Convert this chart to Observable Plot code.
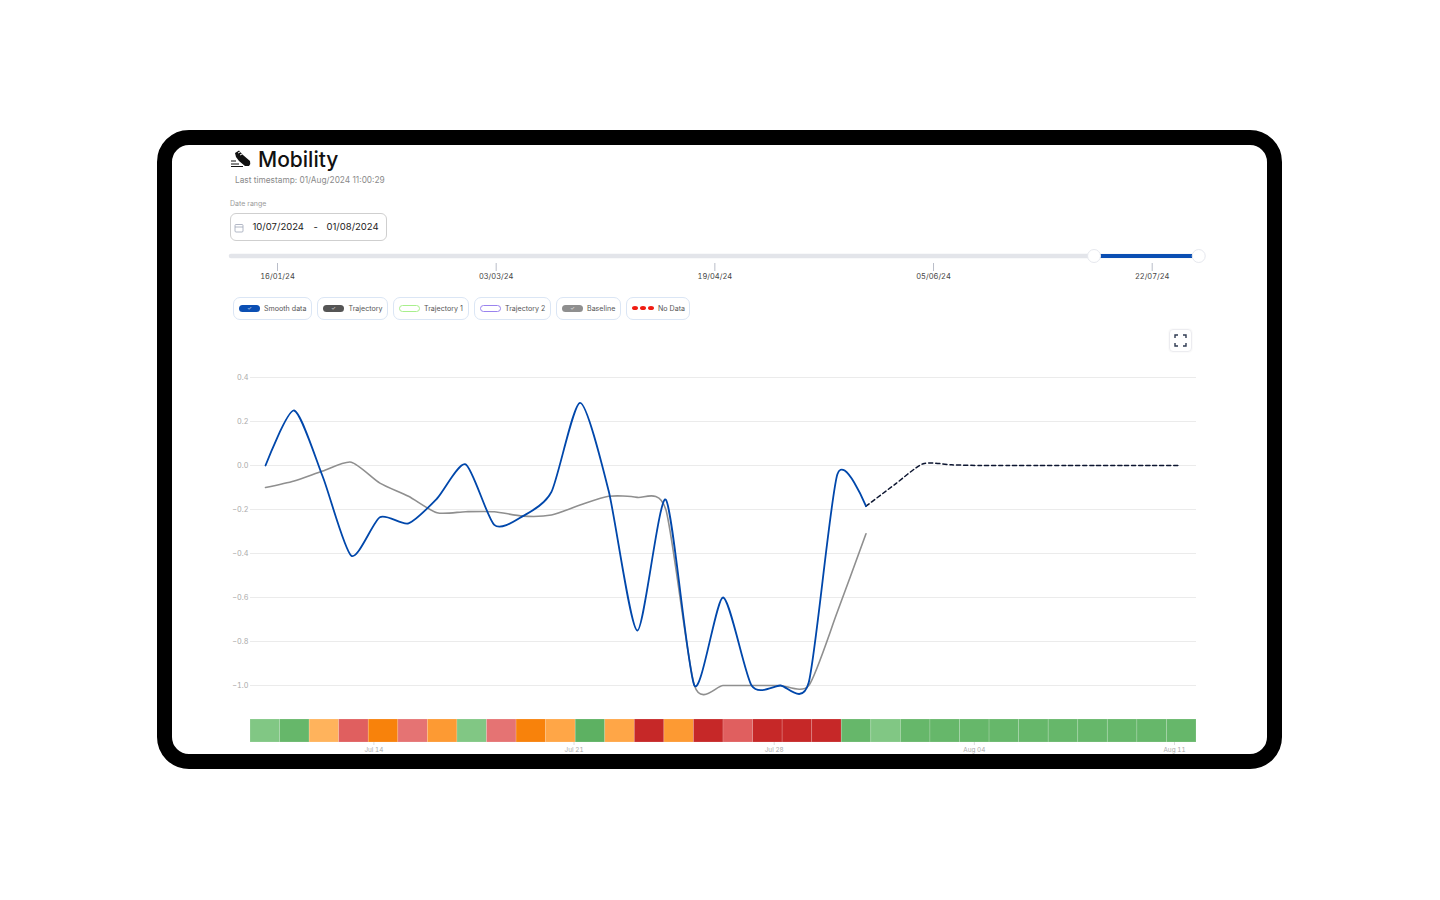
<!DOCTYPE html>
<html><head><meta charset="utf-8">
<script src="https://cdn.jsdelivr.net/npm/d3@7"></script>
<script src="https://cdn.jsdelivr.net/npm/@observablehq/plot@0.6"></script>
<style>
html,body{margin:0;padding:0;background:#fff;font-family:Inter,sans-serif}
#page{position:relative;width:1440px;height:900px;overflow:hidden;background:#fff}
#frame{position:absolute;left:157px;top:130px;width:1125px;height:639px;box-sizing:border-box;border:15px solid #000;border-radius:32px;z-index:5;pointer-events:none}
.abs{position:absolute;white-space:nowrap}
.plot{position:absolute;left:172px}
.pill{position:absolute;top:297px;height:23px;box-sizing:border-box;border:1px solid #dbe6f5;border-radius:7px;background:#fff;font-size:7.1px;color:#555;line-height:21px}
.pill .sw{position:absolute;left:5px;top:7px;width:21px;height:7px;border-radius:4px;box-sizing:border-box;color:#fff;font-size:5px;line-height:7px;text-align:center}
.pill .tx{position:absolute;top:0}
.dot{position:absolute;top:8px;width:6px;height:4px;border-radius:50%;background:#f01c12}
</style></head><body>
<div id="page">
  <div id="frame"></div>
  <svg class="abs" style="left:231px;top:150px" width="20" height="18" viewBox="0 0 20 18">
    <path d="M4 3 L8 0.5 L12 5 L19 11 Q20 14 18 16 L14 16 L8 11 L5 7 Z" fill="#111"/>
    <path d="M7 3 L10 1.5 M9 5 L12 3.5" stroke="#fff" stroke-width="1"/>
    <path d="M0 11 H5 M0 14 H8 M0 16.5 H12" stroke="#111" stroke-width="1.1"/>
  </svg>
  <div class="abs" style="left:258px;top:146px;font-size:21px;font-weight:500;color:#111;line-height:27px">Mobility</div>
  <div class="abs" style="left:235px;top:175px;font-size:8.3px;color:#8a8a8a;line-height:11px">Last timestamp: 01/Aug/2024 11:00:29</div>
  <div class="abs" style="left:230px;top:199px;font-size:7px;color:#9a9a9a;line-height:10px">Date range</div>
  <div class="abs" style="left:230px;top:213px;width:157px;height:28px;box-sizing:border-box;border:1.5px solid #cfcfcf;border-radius:6px"></div>
  <svg class="abs" style="left:234px;top:223px" width="10" height="10" viewBox="0 0 10 10"><rect x="1" y="1.5" width="8" height="7.5" rx="1" fill="none" stroke="#9fa6b8" stroke-width=".8"/><path d="M1 4H9" stroke="#9fa6b8" stroke-width=".8"/></svg>
  <div class="abs" style="left:252.5px;top:221px;font-size:9.5px;color:#222;line-height:12px">10/07/2024</div>
  <div class="abs" style="left:313.5px;top:221px;font-size:9.5px;color:#222;line-height:12px">-</div>
  <div class="abs" style="left:326.5px;top:221px;font-size:9.5px;color:#222;line-height:12px">01/08/2024</div>

  <div class="pill" style="left:233px;width:79px"><span class="sw" style="background:#0b4fb3">✓</span><span class="tx" style="left:30px">Smooth data</span></div>
  <div class="pill" style="left:317px;width:71px"><span class="sw" style="background:#555">✓</span><span class="tx" style="left:30.5px">Trajectory</span></div>
  <div class="pill" style="left:393px;width:76px"><span class="sw" style="border:1.3px solid #a8ef8c"></span><span class="tx" style="left:30px">Trajectory 1</span></div>
  <div class="pill" style="left:474px;width:77px"><span class="sw" style="border:1.3px solid #9a83ee"></span><span class="tx" style="left:30px">Trajectory 2</span></div>
  <div class="pill" style="left:556px;width:65px"><span class="sw" style="background:#8f8f8f">✓</span><span class="tx" style="left:30px">Baseline</span></div>
  <div class="pill" style="left:626px;width:64px"><span class="dot" style="left:5px"></span><span class="dot" style="left:13px"></span><span class="dot" style="left:21px"></span><span class="tx" style="left:31px">No Data</span></div>

  <div class="abs" style="left:1169px;top:329px;width:23px;height:23px;box-sizing:border-box;border:1px solid #ececf0;border-radius:4px;box-shadow:0 0 2px #eee"></div>
  <svg class="abs" style="left:1174px;top:334px" width="13" height="13" viewBox="0 0 13 13"><path d="M1 4V1H4 M9 1H12V4 M12 9V12H9 M4 12H1V9" fill="none" stroke="#2f3b52" stroke-width="1.4"/></svg>
</div>
<script>
// ---- data ----
const sliderStart = "2024-01-06", sliderEnd = "2024-08-01";
const selectedRange = ["2024-07-09T12:00", "2024-08-01"];
const sliderTicks = ["2024-01-16", "2024-03-03", "2024-04-19", "2024-06-05", "2024-07-22"];

const smoothDays = ["2024-07-10","2024-07-11","2024-07-12","2024-07-13","2024-07-14","2024-07-15","2024-07-16","2024-07-17","2024-07-18","2024-07-19","2024-07-20","2024-07-21","2024-07-22","2024-07-23","2024-07-24","2024-07-25","2024-07-26","2024-07-27","2024-07-28","2024-07-29","2024-07-30","2024-07-31"];
const smoothValues = [0.0,0.25,-0.05,-0.41,-0.235,-0.263,-0.15,0.005,-0.27,-0.23,-0.12,0.285,-0.115,-0.75,-0.155,-1.0,-0.6,-1.0,-1.0,-0.985,-0.04,-0.185];
const baselineValues = [-0.1,-0.07,-0.025,0.015,-0.08,-0.14,-0.215,-0.21,-0.21,-0.23,-0.225,-0.18,-0.14,-0.145,-0.2,-1.0,-1.0,-1.0,-1.0,-1.0,-0.665,-0.31];
const forecastDays = ["2024-07-31","2024-08-01","2024-08-02","2024-08-03","2024-08-04","2024-08-05","2024-08-06","2024-08-07","2024-08-08","2024-08-09","2024-08-10","2024-08-11"];
const forecastValues = [-0.185,-0.087,0.008,0.003,0,0,0,0,0,0,0,0];

const yTicks = [0.4,0.2,0,-0.2,-0.4,-0.6,-0.8,-1.0];
const xTicks = ["2024-07-14","2024-07-21","2024-07-28","2024-08-04","2024-08-11"];
const xDomain = ["2024-07-09T11:24","2024-08-11T13:25"];

const cellDays = ["07-10","07-11","07-12","07-13","07-14","07-15","07-16","07-17","07-18","07-19","07-20","07-21","07-22","07-23","07-24","07-25","07-26","07-27","07-28","07-29","07-30","07-31","08-01","08-02","08-03","08-04","08-05","08-06","08-07","08-08","08-09","08-10"];
const cellClass = ["g1","g2","o1","r2","o3","r1","o2","g1","r1","o3","o1b","g3","o1b","r3","o2","r3","r2","r3","r3","r3","g2","g1","g2","g2","g2","g2","g2","g2","g2","g2","g2","g2"];
const classNames = ["g1","g2","g3","o1","o1b","o2","o3","r1","r2","r3"];
const classColors = ["#81c784","#66b76a","#5db162","#ffb35c","#ffa647","#fd9a33","#f8820b","#e57373","#e05f5f","#c62828"];

const toDate = s => new Date(s.length > 10 ? s + "Z" : s + "T00:00Z");
const rows = (d, v) => d.map((s, i) => ({date: toDate(s), value: v[i]}));
const font = {fontFamily: "Inter, sans-serif", background: "transparent"};
const page = document.getElementById("page");
function place(svg, top){ svg.classList.add("plot"); svg.style.top = top + "px"; svg.style.position = "absolute"; svg.style.left = "172px"; page.appendChild(svg); }

// slider
const track = [{date: toDate(sliderStart)}, {date: toDate(sliderEnd)}];
const sel = selectedRange.map(s => ({date: toDate(s)}));
place(Plot.plot({
  width: 1095, height: 35, marginTop: 0, marginBottom: 17, marginLeft: 0, marginRight: 0, style: {...font, overflow: "visible"},
  x: {type: "utc", domain: [toDate(sliderTicks[0]), toDate(sliderTicks[4])], range: [105, 979.7]},
  y: {domain: [0, 1], range: [10.5, 10.5], axis: null},
  marks: [
    Plot.line(track, {x: "date", y: () => 0, stroke: "#e3e5ea", strokeWidth: 4.5}),
    Plot.line(sel, {x: "date", y: () => 0, stroke: "#0b4fb3", strokeWidth: 4}),
    Plot.dot(sel, {x: "date", y: () => 0, r: 6.5, fill: "#fff", stroke: "#e6e8ee", strokeWidth: 1}),
    Plot.axisX({anchor: "bottom", ticks: sliderTicks.map(toDate), tickFormat: d3.utcFormat("%d/%m/%y"), tickSize: 8, tickPadding: 2, fontSize: 7.5, stroke: "#b9bdc9", fill: "#444", label: null})
  ]
}), 245);

// main chart
const lineCurve = {curve: "cardinal", tension: 0.3};
place(Plot.plot({
  width: 1095, height: 414, marginLeft: 78, marginRight: 71, marginTop: 0, marginBottom: 12, style: font,
  x: {type: "utc", domain: xDomain.map(toDate), label: null},
  y: {domain: [-1.0, 0.4], range: [345, 37], label: null},
  marks: [
    Plot.ruleY(yTicks, {stroke: "#ebebeb", strokeWidth: 1}),
    Plot.axisY({anchor: "left", ticks: yTicks, tickSize: 0, tickPadding: 2, fontSize: 7.3, fill: "#aaa", label: null, tickFormat: d3.format(".1f")}),
    Plot.axisX({anchor: "bottom", ticks: xTicks.map(toDate), tickFormat: d3.utcFormat("%b %d"), tickSize: 3, tickPadding: 2, fontSize: 6.4, stroke: "#ddd", fill: "#aaa", label: null, dx: -6}),
    Plot.line(rows(smoothDays, baselineValues), {x: "date", y: "value", ...lineCurve, stroke: "#8f8f8f", strokeWidth: 1.6}),
    Plot.line(rows(forecastDays, forecastValues), {x: "date", y: "value", ...lineCurve, stroke: "#0c1530", strokeWidth: 1.5, strokeDasharray: "4,3"}),
    Plot.line(rows(smoothDays, smoothValues), {x: "date", y: "value", ...lineCurve, stroke: "#0047ab", strokeWidth: 1.8})
  ]
}), 340);

// heat strip
place(Plot.plot({
  width: 1095, height: 23, marginLeft: 78, marginRight: 71, marginTop: 0, marginBottom: 0, style: font,
  x: {type: "band", domain: cellDays, padding: 0, round: false, axis: null},
  color: {domain: classNames, range: classColors},
  marks: [
    Plot.cell(cellDays.map((d, i) => ({day: d, cls: cellClass[i]})), {x: "day", fill: "cls", stroke: "#fff", strokeOpacity: 0.2, strokeWidth: 0.8})
  ]
}), 719);
</script>
</body></html>
